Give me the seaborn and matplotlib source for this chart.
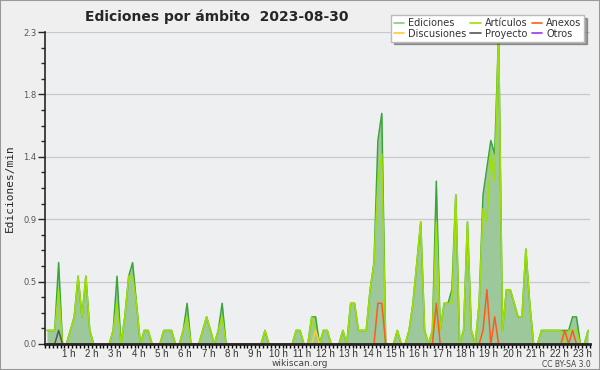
import numpy as np
import pandas as pd
import seaborn as sns
import matplotlib.pyplot as plt
from matplotlib.lines import Line2D
from matplotlib.ticker import FixedLocator, MultipleLocator

# ---------------------------------------------------------------
# Datos: ediciones/min por tramo de 10 minutos (2023-08-30)
# ---------------------------------------------------------------
TITULO = "Ediciones por ámbito  2023-08-30"
MINUTOS_TRAMO = 10

ediciones = [
    0.1, 0.1, 0.1, 0.6, 0.0, 0.0, 0.1, 0.2, 0.5, 0.2, 0.5, 0.1,
    0.0, 0.0, 0.0, 0.0, 0.0, 0.1, 0.5, 0.0, 0.2, 0.5, 0.6, 0.3,
    0.0, 0.1, 0.1, 0.0, 0.0, 0.0, 0.1, 0.1, 0.1, 0.0, 0.0, 0.1,
    0.3, 0.0, 0.0, 0.0, 0.1, 0.2, 0.1, 0.0, 0.1, 0.3, 0.0, 0.0,
    0.0, 0.0, 0.0, 0.0, 0.0, 0.0, 0.0, 0.0, 0.1, 0.0, 0.0, 0.0,
    0.0, 0.0, 0.0, 0.0, 0.1, 0.1, 0.0, 0.0, 0.2, 0.2, 0.0, 0.1,
    0.1, 0.0, 0.0, 0.0, 0.1, 0.0, 0.3, 0.3, 0.1, 0.1, 0.1, 0.4,
    0.6, 1.5, 1.7, 0.0, 0.0, 0.0, 0.1, 0.0, 0.0, 0.1, 0.3, 0.6,
    0.9, 0.1, 0.0, 0.1, 1.2, 0.1, 0.3, 0.3, 0.4, 1.1, 0.0, 0.1,
    0.9, 0.1, 0.0, 0.3, 1.1, 1.3, 1.5, 1.4, 2.3, 0.1, 0.4, 0.4,
    0.3, 0.2, 0.2, 0.7, 0.3, 0.0, 0.0, 0.1, 0.1, 0.1, 0.1, 0.1,
    0.1, 0.1, 0.1, 0.2, 0.2, 0.0, 0.0, 0.1,
]

articulos = [
    0.1, 0.1, 0.1, 0.4, 0.0, 0.0, 0.1, 0.2, 0.5, 0.2, 0.5, 0.1,
    0.0, 0.0, 0.0, 0.0, 0.0, 0.1, 0.3, 0.0, 0.2, 0.5, 0.5, 0.3,
    0.0, 0.1, 0.1, 0.0, 0.0, 0.0, 0.1, 0.1, 0.1, 0.0, 0.0, 0.1,
    0.2, 0.0, 0.0, 0.0, 0.1, 0.2, 0.1, 0.0, 0.1, 0.2, 0.0, 0.0,
    0.0, 0.0, 0.0, 0.0, 0.0, 0.0, 0.0, 0.0, 0.1, 0.0, 0.0, 0.0,
    0.0, 0.0, 0.0, 0.0, 0.1, 0.1, 0.0, 0.0, 0.2, 0.1, 0.0, 0.1,
    0.1, 0.0, 0.0, 0.0, 0.1, 0.0, 0.3, 0.3, 0.1, 0.1, 0.1, 0.4,
    0.6, 1.2, 1.4, 0.0, 0.0, 0.0, 0.1, 0.0, 0.0, 0.1, 0.3, 0.6,
    0.9, 0.1, 0.0, 0.1, 0.9, 0.1, 0.3, 0.3, 0.3, 1.1, 0.0, 0.1,
    0.9, 0.1, 0.0, 0.3, 1.0, 0.9, 1.4, 1.2, 2.3, 0.1, 0.4, 0.4,
    0.3, 0.2, 0.2, 0.7, 0.3, 0.0, 0.0, 0.1, 0.1, 0.1, 0.1, 0.1,
    0.1, 0.0, 0.1, 0.1, 0.1, 0.0, 0.0, 0.1,
]

# series casi vacías: {número de tramo: valor}
anexos = {85: 0.3, 86: 0.3, 100: 0.3, 112: 0.1, 113: 0.4, 115: 0.2, 133: 0.1, 135: 0.1}
discusiones = {69: 0.1}
proyecto = {3: 0.1}
otros = {}

Y_MAX = 2.3
Y_ETIQUETAS = ["0.0", "0.5", "0.9", "1.4", "1.8", "2.3"]
HORAS = list(range(1, 24))

COLORES = {
    "Ediciones": "#3aa63a",
    "Artículos": "#9ee000",
    "Anexos": "#ff5a1e",
    "Discusiones": "#ffcc33",
    "Proyecto": "#555555",
    "Otros": "#9933ee",
}
COLOR_LEYENDA = dict(COLORES, Ediciones="#80cc80")
RELLENO = "#9dc89b"


def disperso(d, n):
    v = np.zeros(n)
    for k, val in d.items():
        v[k] = val
    return v


n = len(ediciones)
hora = (np.arange(n) + 0.5) * MINUTOS_TRAMO / 60.0

df = pd.concat([
    pd.DataFrame({"hora": hora, "valor": ediciones, "serie": "Ediciones"}),
    pd.DataFrame({"hora": hora, "valor": articulos, "serie": "Artículos"}),
    pd.DataFrame({"hora": hora, "valor": disperso(discusiones, n), "serie": "Discusiones"}),
    pd.DataFrame({"hora": hora, "valor": disperso(proyecto, n), "serie": "Proyecto"}),
    pd.DataFrame({"hora": hora, "valor": disperso(otros, n), "serie": "Otros"}),
    pd.DataFrame({"hora": hora, "valor": disperso(anexos, n), "serie": "Anexos"}),
])

# ---------------------------------------------------------------
# Figura
# ---------------------------------------------------------------
sns.set_style("ticks")
plt.rcParams["font.family"] = ["DejaVu Sans"]

fig = plt.figure(figsize=(6.0, 3.7), dpi=100, facecolor="#efefef")
ax = fig.add_axes([0.075, 0.0703, 0.9085, 0.8432])
ax.set_facecolor("#eeeff1")

ax.fill_between(hora, ediciones, 0, color=RELLENO, lw=0, zorder=1)
sns.lineplot(data=df, x="hora", y="valor", hue="serie", palette=COLORES,
             hue_order=["Ediciones", "Artículos", "Discusiones", "Proyecto", "Otros", "Anexos"],
             linewidth=1.1, legend=False, ax=ax, zorder=2)

ax.set_xlim(0, n * MINUTOS_TRAMO / 60.0)
ax.set_ylim(0, Y_MAX)

y_ticks = np.linspace(0, Y_MAX, len(Y_ETIQUETAS))
ax.yaxis.set_major_locator(FixedLocator(y_ticks))
ax.set_yticklabels(Y_ETIQUETAS)
ax.yaxis.set_minor_locator(MultipleLocator(Y_MAX / 20))
ax.xaxis.set_major_locator(FixedLocator(HORAS))
ax.set_xticklabels([f"{h} h" for h in HORAS])
ax.xaxis.set_minor_locator(MultipleLocator(MINUTOS_TRAMO / 60.0))

ax.grid(axis="y", color="#c8c8c8", lw=0.9)
ax.grid(axis="x", visible=False)
ax.tick_params(axis="x", which="both", length=3, width=1, colors="black",
               labelsize=6.5, labelcolor="#333333", pad=0.5)
for lab in ax.get_xticklabels():
    lab.set_family("Liberation Sans")
    lab.set_fontsize(7)
ax.tick_params(axis="y", which="major", length=5, width=1, labelsize=6,
               labelcolor="#555555", pad=1)
ax.tick_params(axis="y", which="minor", length=3, width=1)

for s in ["top", "right"]:
    ax.spines[s].set_visible(False)
ax.spines["bottom"].set_linewidth(2)
ax.spines["left"].set_linewidth(1.2)

ax.set_xlabel("")
ax.set_ylabel("Ediciones/min", fontsize=8, family="DejaVu Sans Mono", labelpad=6)

fig.text(0.142, 0.955, TITULO, fontsize=10, fontweight="bold", ha="left", va="center")
fig.text(0.5, 0.017, "wikiscan.org", fontsize=6.5, color="#444444", ha="center", va="center")
fig.text(0.985, 0.016, "CC BY-SA 3.0", fontsize=5.5, color="#444444", ha="right", va="center")

orden = ["Ediciones", "Discusiones", "Artículos", "Proyecto", "Anexos", "Otros"]
handles = [Line2D([], [], color=COLOR_LEYENDA[k], lw=1.2) for k in orden]
leg = fig.legend(handles, orden, ncol=3, loc="upper right", bbox_to_anchor=(0.982, 0.972),
                 fontsize=7, frameon=True, fancybox=False, shadow=True,
                 handlelength=1.1, handletextpad=0.4, columnspacing=0.4,
                 labelspacing=0.05, borderpad=0.3)
leg.get_frame().set_facecolor("white")
leg.get_frame().set_edgecolor("#bbbbbb")
for t in leg.get_texts():
    t.set_color("#333333")

fig.patches.append(plt.Rectangle((0, 0), 1, 1, transform=fig.transFigure, fill=False,
                                 edgecolor="#999999", lw=1.5))

fig.savefig("out.png", dpi=100, facecolor=fig.get_facecolor())
